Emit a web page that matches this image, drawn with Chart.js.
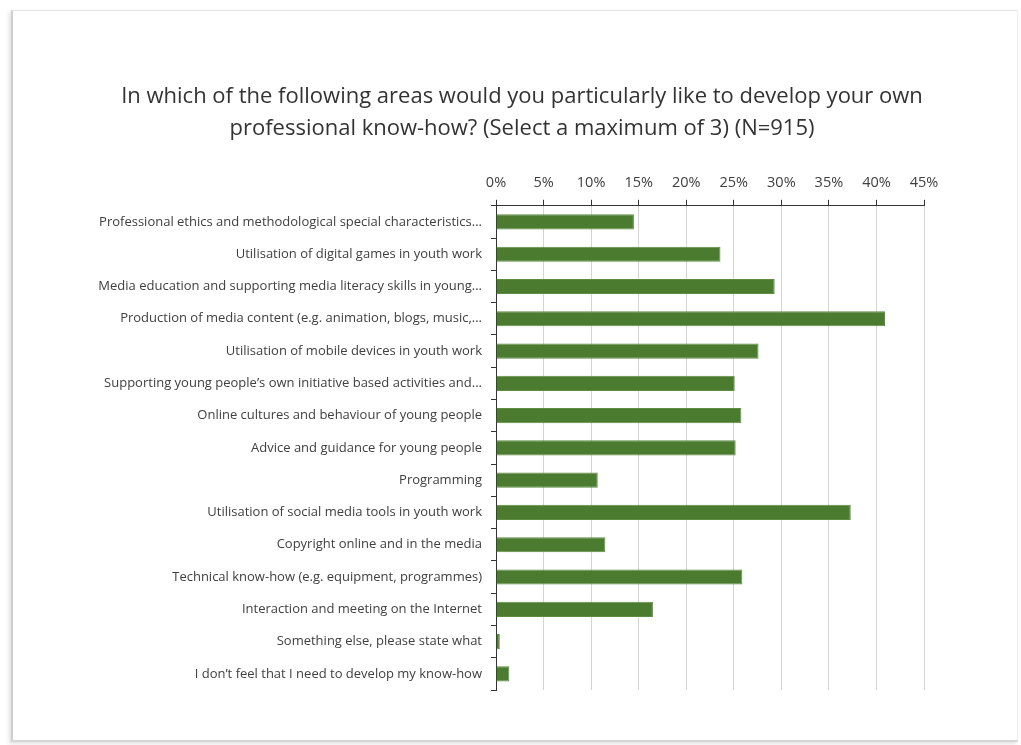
<!DOCTYPE html>
<html>
<head>
<meta charset="utf-8">
<title>Professional know-how</title>
<script src="https://cdn.jsdelivr.net/npm/chart.js@4.4.0/dist/chart.umd.min.js"></script>
<style>
    html, body { margin: 0; padding: 0; background: #ffffff; }
    #marco {
        position: absolute;
        left: 11px; top: 10px;
        width: 1004px; height: 729px;
        border-left: 2px solid #cfcfcf;
        border-top: 1px solid #e6e6e6;
        border-bottom: 2px solid #d6d6d6;
        border-right: 1px solid #eeeeee;
        box-shadow: -2px 2px 4px rgba(0,0,0,0.12);
    }
    #lienzo { position: absolute; left: 0; top: 0; }
</style>
</head>
<body>
<div id="marco"></div>
<canvas id="lienzo" width="1021" height="745"></canvas>
<script>
// Datos del gráfico
const categorias = [
    'Professional ethics and methodological special characteristics...',
    'Utilisation of digital games in youth work',
    'Media education and supporting media literacy skills in young...',
    'Production of media content (e.g. animation, blogs, music,...',
    'Utilisation of mobile devices in youth work',
    'Supporting young people\u2019s own initiative based activities and...',
    'Online cultures and behaviour of young people',
    'Advice and guidance for young people',
    'Programming',
    'Utilisation of social media tools in youth work',
    'Copyright online and in the media',
    'Technical know-how (e.g. equipment, programmes)',
    'Interaction and meeting on the Internet',
    'Something else, please state what',
    'I don\u2019t feel that I need to develop my know-how'
];
const porcentajes = [14.5, 23.6, 29.3, 40.9, 27.6, 25.1, 25.8, 25.2, 10.7, 37.3, 11.5, 25.9, 16.5, 0.4, 1.4];
const titulo = [
    'In which of the following areas would you particularly like to develop your own',
    'professional know-how? (Select a maximum of 3) (N=915)'
];

const fuente = "'Open Sans', Lato, sans-serif";

// Desplaza el bloque del título para centrarlo como en el original
const centrarTitulo = {
    id: 'centrarTitulo',
    afterLayout: function(chart) {
        if (chart.titleBlock) {
            chart.titleBlock.left = 120;
        }
    }
};

const ctx = document.getElementById('lienzo').getContext('2d');
new Chart(ctx, {
    type: 'bar',
    data: {
        labels: categorias,
        datasets: [{
            data: porcentajes,
            backgroundColor: '#4b7b2f',
            borderColor: '#5e8c42',
            borderWidth: 1,
            barPercentage: 0.47,
            categoryPercentage: 1
        }]
    },
    plugins: [centrarTitulo],
    options: {
        indexAxis: 'y',
        responsive: false,
        animation: false,
        layout: {
            padding: { top: 65, left: 0, right: 97, bottom: 55 }
        },
        plugins: {
            legend: { display: false },
            tooltip: { enabled: false },
            title: {
                display: true,
                text: titulo,
                color: '#333333',
                font: { family: fuente, size: 22, weight: 'normal', lineHeight: 1.45 },
                padding: { top: 16, bottom: 10 }
            }
        },
        scales: {
            x: {
                position: 'top',
                min: 0,
                max: 45,
                ticks: {
                    stepSize: 5,
                    color: '#404040',
                    padding: 8,
                    font: { family: fuente, size: 14.5 },
                    callback: function(value) {
                        return value + '%';
                    }
                },
                grid: {
                    color: '#d4d4d4',
                    tickColor: '#333333',
                    tickLength: 6,
                    lineWidth: 1
                },
                border: { display: true, color: '#333333', width: 1 },
                afterFit: function(escala) {
                    escala.height = 51;
                }
            },
            y: {
                ticks: {
                    color: '#404040',
                    padding: 9,
                    autoSkip: false,
                    font: { family: fuente, size: 13 }
                },
                grid: {
                    drawOnChartArea: false,
                    color: '#333333',
                    tickLength: 5
                },
                border: { display: true, color: '#333333', width: 1 },
                afterFit: function(escala) {
                    escala.width = 496;
                }
            }
        }
    }
});
</script>
</body>
</html>
